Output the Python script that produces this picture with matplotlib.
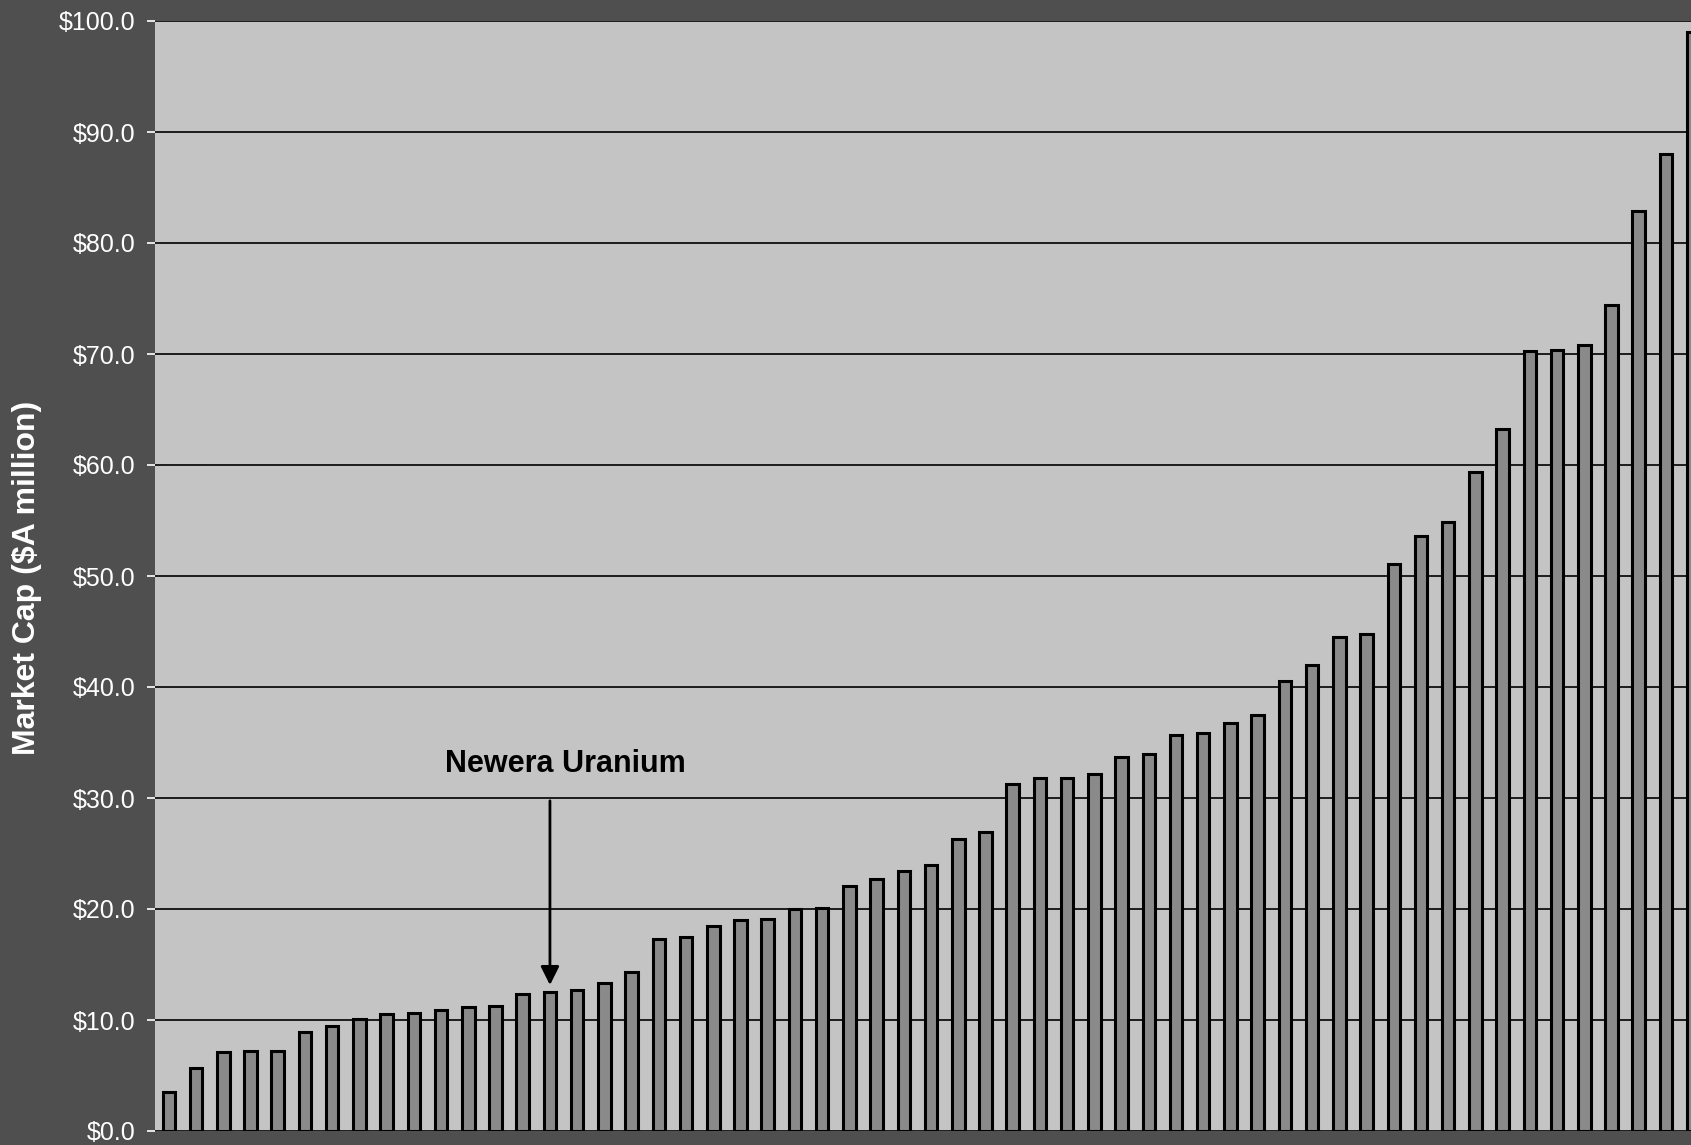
import matplotlib.pyplot as plt

plt.rcParams['font.family'] = ['Liberation Sans', 'DejaVu Sans']

# Market cap per company, sorted ascending ($A million)
valores = [3.5, 5.7, 7.1, 7.2, 7.2, 8.9, 9.5, 10.1, 10.5, 10.6,
           10.9, 11.2, 11.3, 12.3, 12.5, 12.7, 13.3, 14.3, 17.3, 17.5,
           18.5, 19.0, 19.1, 20.0, 20.1, 22.1, 22.7, 23.4, 24.0, 26.3,
           26.9, 31.3, 31.8, 31.8, 32.2, 33.7, 34.0, 35.7, 35.9, 36.8,
           37.5, 40.5, 42.0, 44.5, 44.8, 51.1, 53.6, 54.9, 59.4, 63.2,
           70.3, 70.4, 70.8, 74.4, 82.9, 88.0, 99.0]
posicoes = list(range(len(valores)))
yticks = [0, 10, 20, 30, 40, 50, 60, 70, 80, 90, 100]
ytick_labels = ['$%.1f' % v for v in yticks]

destaque = 14  # Newera Uranium
destaque_nome = 'Newera Uranium'

fig = plt.figure(figsize=(16.91, 11.45), dpi=100, facecolor='#4f4f4f')
ax = fig.add_axes([155 / 1691, 14 / 1145, 1 - 155 / 1691, 1110 / 1145])
ax.set_facecolor('#c4c4c4')

ax.bar(posicoes, valores, width=0.46, color='#8a8a8a', edgecolor='black',
       linewidth=2.2, zorder=3)

ax.set_xlim(-0.51, 55.92)
ax.set_ylim(0, 100)
ax.set_yticks(yticks)
ax.set_yticklabels(ytick_labels)
ax.set_xticks([])
ax.yaxis.grid(True, color='black', linewidth=1.2, zorder=1)
ax.set_axisbelow(True)
ax.tick_params(axis='y', colors='white', labelsize=18, length=6, width=1.2, pad=8)
for s in ax.spines.values():
    s.set_visible(False)

# seta e rotulo
ax.annotate('', xy=(destaque, 12.9), xytext=(destaque, 30.0),
            arrowprops=dict(arrowstyle='-|>', color='black', lw=2,
                            mutation_scale=28), zorder=5)
ax.text(destaque + 0.58, 32.3, destaque_nome, ha='center', va='baseline',
        fontsize=22, fontweight='bold', color='black', zorder=5)

fig.text(27 / 1691, 1 - 578 / 1145, 'Market Cap ($A million)', rotation=90,
         ha='center', va='center', fontsize=23, fontweight='bold', color='white')

plt.savefig('out.png', dpi=100, facecolor=fig.get_facecolor())
